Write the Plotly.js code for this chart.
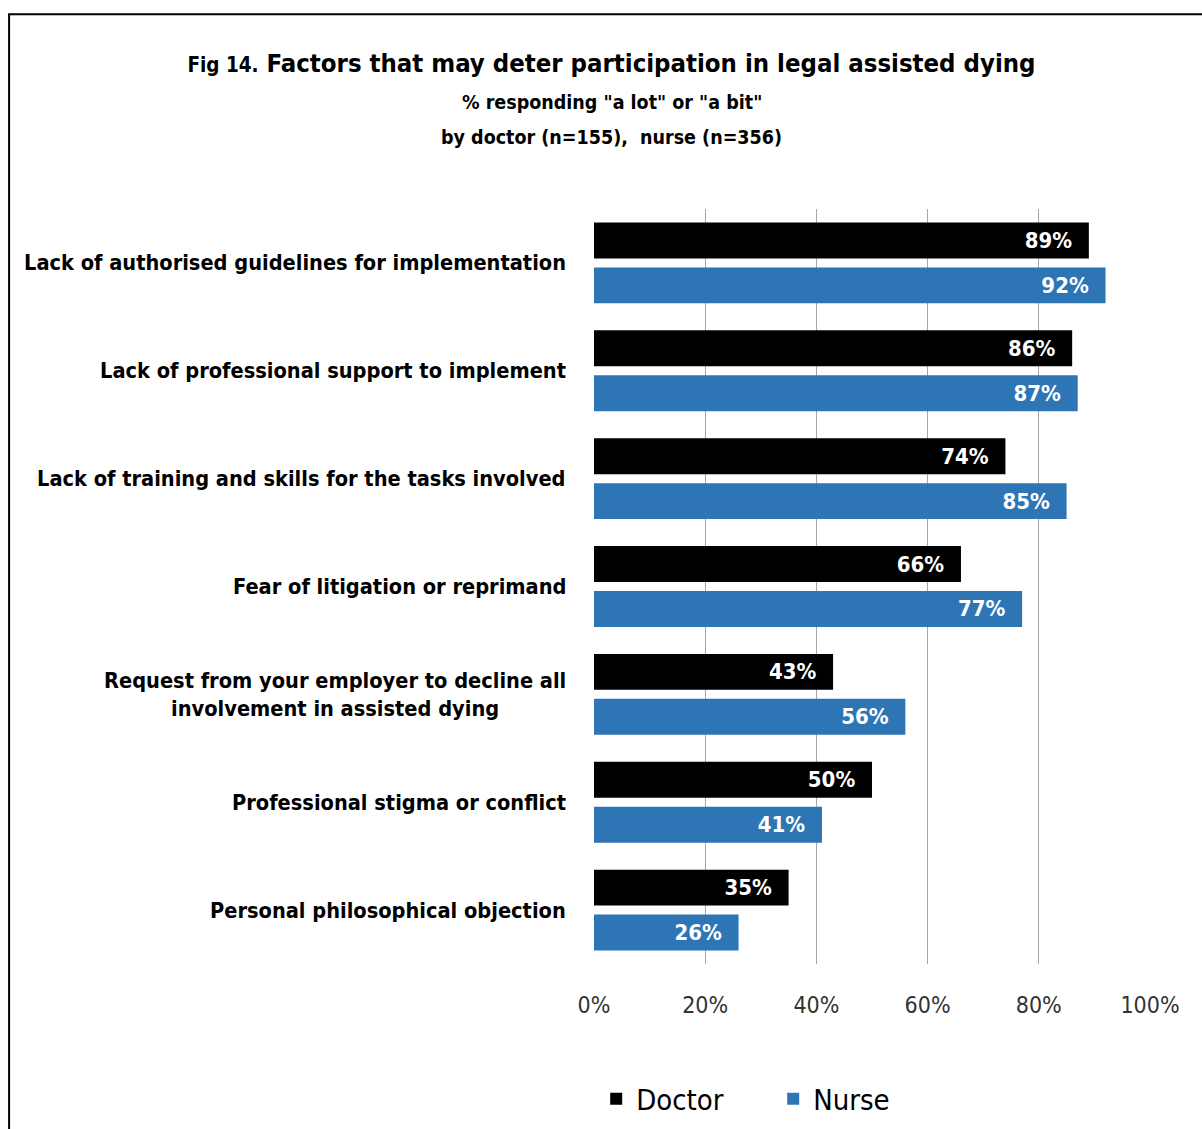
<!DOCTYPE html>
<html>
<head>
<meta charset="utf-8">
<script src="https://cdn.plot.ly/plotly-3.0.1.min.js"></script>
<style>
html,body{margin:0;padding:0;background:#fff;}
#chart{width:1202px;height:1129px;}
</style>
</head>
<body>
<div id="chart"></div>
<script>
const categories = [
  "Lack of authorised guidelines for implementation",
  "Lack of professional support to implement",
  "Lack of training and skills for the tasks involved",
  "Fear of litigation or reprimand",
  "Request from your employer to decline all<br>involvement in assisted dying",
  "Professional stigma or conflict",
  "Personal philosophical objection"
];
const doctorValues = [89, 86, 74, 66, 43, 50, 35];
const nurseValues  = [92, 87, 85, 77, 56, 41, 26];
const tickValues = [0, 20, 40, 60, 80, 100];
const tickLabels = ["0%", "20%", "40%", "60%", "80%", "100%"];
const titleText = '<span style="font-size:20.5px">Fig 14.</span> Factors that may deter participation in legal assisted dying';
const subtitleLines = ['% responding "a lot" or "a bit"', 'by doctor (n=155),  nurse (n=356)'];

const FONT = '"DejaVu Sans Condensed", "DejaVu Sans", sans-serif';
const PAD = '\u00a0\u00a0';

const doctor = {
  type: 'bar', orientation: 'h', name: 'Doctor',
  x: doctorValues, y: categories,
  marker: {color: '#000000'},
  text: doctorValues.map(v => v + '%' + PAD),
  textposition: 'inside', insidetextanchor: 'end', constraintext: 'none',
  textfont: {family: FONT, size: 22, color: '#ffffff', weight: 'bold'},
  hoverinfo: 'skip'
};
const nurse = {
  type: 'bar', orientation: 'h', name: 'Nurse',
  x: nurseValues, y: categories,
  marker: {color: '#2E75B6'},
  text: nurseValues.map(v => v + '%' + PAD),
  textposition: 'inside', insidetextanchor: 'end', constraintext: 'none',
  textfont: {family: FONT, size: 22, color: '#ffffff', weight: 'bold'},
  hoverinfo: 'skip'
};

const labelAnnotations = categories.map(c => ({
  xref: 'paper', yref: 'y', x: -0.046, y: c,
  xanchor: 'right', yanchor: 'middle', align: 'center',
  text: c, showarrow: false,
  font: {family: FONT, size: 21.6, color: '#000', weight: 'bold'}
}));

const subtitleY = [1.141, 1.0946];
const subtitleAnnotations = subtitleLines.map((s, i) => ({
  xref: 'paper', yref: 'paper', x: 0.0315, y: subtitleY[i],
  xanchor: 'center', yanchor: 'middle',
  text: s, showarrow: false,
  font: {family: FONT, size: 19.5, color: '#000', weight: 'bold'}
}));

const layout = {
  width: 1202, height: 1129,
  margin: {l: 594, r: 52, t: 208.5, b: 164.5, autoexpand: false},
  paper_bgcolor: '#ffffff', plot_bgcolor: '#ffffff',
  font: {family: FONT, color: '#000'},
  barmode: 'group', bargap: 0.1667, bargroupgap: 0.2,
  showlegend: true,
  legend: {
    orientation: 'h', xref: 'container', yref: 'container',
    x: 0.496, xanchor: 'left', y: 0.0266, yanchor: 'middle',
    entrywidth: 132,
    font: {family: FONT, size: 29, color: '#000'}, itemwidth: 30, traceorder: 'normal'
  },
  title: {
    text: titleText,
    xref: 'container', yref: 'container',
    x: 0.5087, xanchor: 'center', y: 0.944, yanchor: 'middle',
    font: {family: FONT, size: 25.5, color: '#000', weight: 'bold'}
  },
  xaxis: {
    range: [0, 100], tickvals: tickValues, ticktext: tickLabels,
    showgrid: true, gridcolor: '#A6A6A6', gridwidth: 1,
    zeroline: false, showline: false, ticks: '',
    ticklabelstandoff: 25,
    tickfont: {family: FONT, size: 23, color: '#333'},
    fixedrange: true
  },
  yaxis: {
    type: 'category', autorange: 'reversed',
    showticklabels: false, showgrid: false, zeroline: false, ticks: '',
    fixedrange: true
  },
  annotations: labelAnnotations.concat(subtitleAnnotations),
  shapes: [{
    type: 'rect', xref: 'paper', yref: 'paper',
    x0: -1.052, x1: 1.2, y0: -0.3, y1: 1.258,
    line: {color: '#000', width: 2}, fillcolor: 'rgba(0,0,0,0)', layer: 'below'
  }]
};

Plotly.newPlot('chart', [doctor, nurse], layout, {displayModeBar: false, staticPlot: true});
</script>
</body>
</html>
